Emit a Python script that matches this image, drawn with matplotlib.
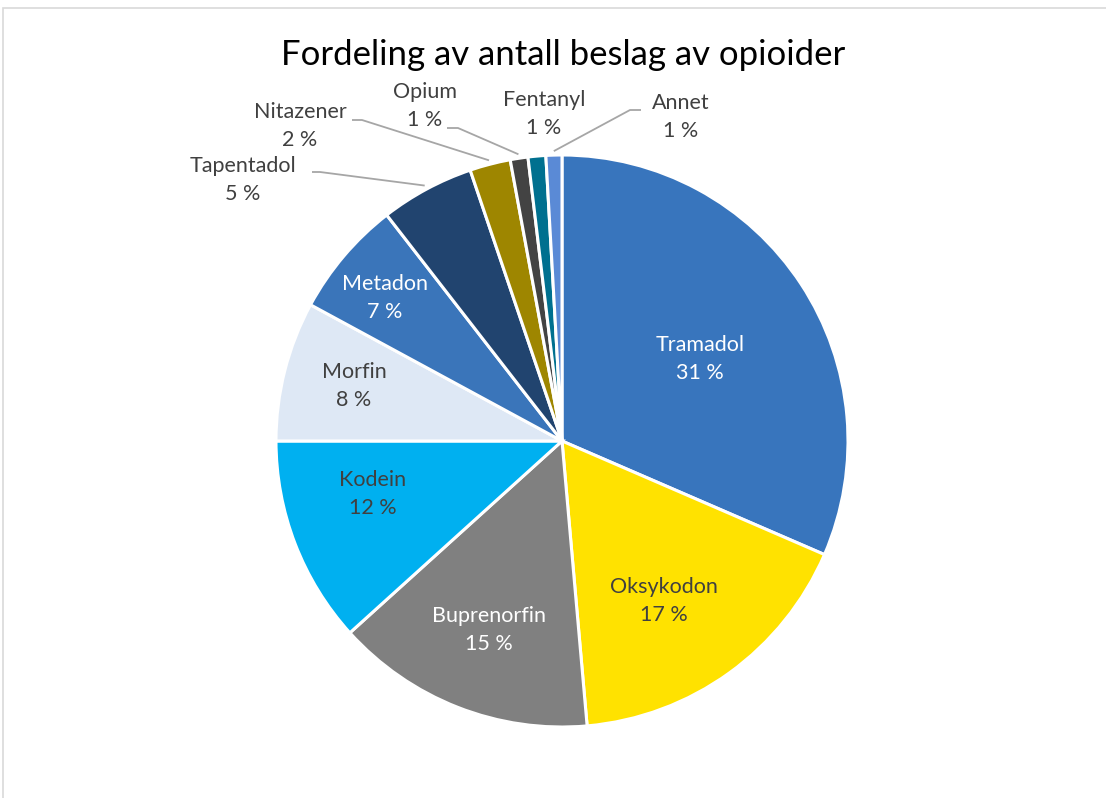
import numpy as np
import matplotlib.pyplot as plt
from matplotlib.patches import Rectangle

plt.rcParams['font.family'] = ['Lato', 'DejaVu Sans']

# data (share of seizures, %)
navn = ["Tramadol", "Oksykodon", "Buprenorfin", "Kodein", "Morfin", "Metadon",
        "Tapentadol", "Nitazener", "Opium", "Fentanyl", "Annet"]
andel = [31.5, 17.1, 14.7, 11.7, 7.9, 6.6, 5.3, 2.3, 1.0, 1.0, 0.9]
etikett = ["31 %", "17 %", "15 %", "12 %", "8 %", "7 %", "5 %", "2 %", "1 %", "1 %", "1 %"]

farger = ["#3875BD", "#FFE200", "#808080", "#00B0F0", "#DEE8F5", "#3A75BA",
          "#21446F", "#9E8600", "#434343", "#00708F", "#5A8AD6"]
tekstfarge = ["white", "#404040", "white", "#404040", "#404040", "white",
              "#404040", "#404040", "#404040", "#404040", "#404040"]
# label centres in pixels (layout only)
pos = [(700, 359), (664, 601), (489, 630), (373, 494), (354, 386), (385, 298),
       (243, 180), (300, 126), (425, 106), (544, 114), (681, 117)]
# leader lines for outside labels: (elbow x, elbow y, end x)
leder = {6: (320, 172, 312), 7: (362, 120, 352), 8: (458, 128, 447),
         10: (630, 110, 641)}

W, H = 1106, 798
fig = plt.figure(figsize=(W / 100, H / 100), dpi=100)
ax = fig.add_axes([0, 0, 1, 1])

cx, cy, R = 562, 441, 286
wedges, _ = ax.pie(andel, colors=farger, startangle=-90, counterclock=True,
                   center=(cx, cy), radius=R, frame=True,
                   wedgeprops=dict(edgecolor='white', linewidth=2.2))
ax.set_xlim(0, W)
ax.set_ylim(H, 0)
ax.axis('off')

for i, w in enumerate(wedges):
    lx, ly = pos[i]
    ax.text(lx, ly, navn[i] + "\n" + etikett[i], ha='center', va='center',
            fontsize=15.5, color=tekstfarge[i], linespacing=1.5)
    if i in leder:
        mid = np.deg2rad((w.theta1 + w.theta2) / 2)
        sx, sy = cx + np.cos(mid) * (R + 4), cy + np.sin(mid) * (R + 4)
        ex, ey, hx = leder[i]
        ax.plot([sx, ex, hx], [sy, ey, ey], color='#A6A6A6', lw=1.3,
                solid_capstyle='butt')

ax.text(W / 2 + 10, 55, "Fordeling av antall beslag av opioider", ha='center',
        va='center', fontsize=25, color='black')

fig.patches.append(Rectangle((3 / W, -0.1), 1.2, 1.1 - 8 / H,
                             transform=fig.transFigure, fill=False,
                             edgecolor='#D9D9D9', lw=1.2))

fig.savefig("out.png", dpi=100)
